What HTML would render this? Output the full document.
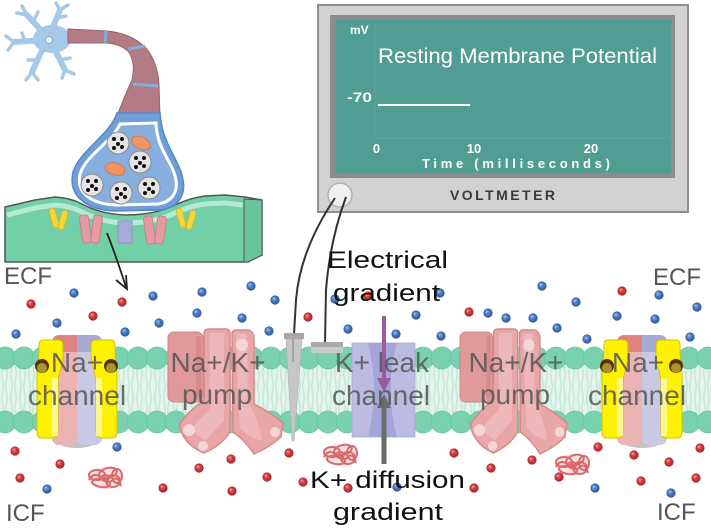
<!DOCTYPE html>
<html><head><meta charset="utf-8">
<style>html,body{margin:0;padding:0;background:#fff;}svg{display:block;}</style></head>
<body>
<svg width="711" height="530" viewBox="0 0 711 530" xmlns="http://www.w3.org/2000/svg" font-family="'Liberation Sans', sans-serif">
<defs>
 <radialGradient id="gb" cx="50%" cy="50%" r="55%" fx="35%" fy="32%">
  <stop offset="0" stop-color="#a4c4ee"/><stop offset="0.45" stop-color="#4b7cc6"/><stop offset="1" stop-color="#2a4f8e"/>
 </radialGradient>
 <radialGradient id="gr" cx="50%" cy="50%" r="55%" fx="35%" fy="32%">
  <stop offset="0" stop-color="#f6a0a0"/><stop offset="0.45" stop-color="#d43a3e"/><stop offset="1" stop-color="#a02226"/>
 </radialGradient>
 <pattern id="tails" x="0" y="368" width="9" height="24" patternUnits="userSpaceOnUse">
  <rect width="9" height="24" fill="#e2f4ec"/>
  <path d="M2.5,0 Q1,6 2.5,12 Q4,18 2.5,24 M6.5,0 Q8,6 6.5,12 Q5,18 6.5,24" stroke="#bfe5d4" stroke-width="1.2" fill="none"/>
 </pattern>
 <g id="tg">
  <ellipse cx="0" cy="0" rx="17" ry="11" fill="#f6cfcf" opacity="0.6"/>
  <g fill="none" stroke="#d9696b" stroke-width="2">
   <ellipse cx="-8" cy="-3" rx="8" ry="5"/>
   <ellipse cx="3" cy="-5" rx="9" ry="5" transform="rotate(-15 3 -5)"/>
   <ellipse cx="8" cy="3" rx="7" ry="6"/>
   <ellipse cx="-4" cy="5" rx="9" ry="4" transform="rotate(10 -4 5)"/>
   <ellipse cx="12" cy="-2" rx="5" ry="7"/>
   <path d="M-16,2 q5,-9 12,-2 t12,2 t8,6"/>
   <ellipse cx="0" cy="0" rx="4" ry="3"/>
  </g>
 </g>
 <g id="nach">
  <ellipse cx="0" cy="440" rx="21" ry="8" fill="#c2c2c2"/>
  <rect x="-25" y="335" width="25" height="110" rx="7" fill="#ebb3b3"/>
  <path d="M-25,352 L-25,343 Q-25,335 -17,335 L0,335 L0,352 Z" fill="#de8181"/>
  <rect x="0" y="335" width="25" height="110" rx="7" fill="#c9c9e6"/>
  <path d="M25,352 L25,343 Q25,335 17,335 L0,335 L0,352 Z" fill="#a9a9d4"/>
  <path d="M-34,340 L-18,340 Q-14,340 -14,346 L-14,362 Q-18,372 -19,382 L-19,430 Q-19,438 -24,438 L-35,438 Q-40,438 -40,432 L-40,372 Q-38,360 -38,346 Q-38,340 -34,340 Z" fill="#fff200" stroke="#d2c300" stroke-width="1"/>
  <path d="M34,340 L18,340 Q14,340 14,346 L14,362 Q18,372 19,382 L19,430 Q19,438 24,438 L35,438 Q40,438 40,432 L40,372 Q38,360 38,346 Q38,340 34,340 Z" fill="#fff200" stroke="#d2c300" stroke-width="1"/>
  <rect x="-25" y="378" width="6" height="58" fill="#fcf8a8" opacity="0.85"/>
  <rect x="19" y="378" width="6" height="58" fill="#fcf8a8" opacity="0.85"/>
  <circle cx="-35" cy="366" r="7" fill="#5a3208"/>
  <circle cx="-35" cy="368" r="5" fill="#a8962a"/>
  <circle cx="34" cy="366" r="7" fill="#5a3208"/>
  <circle cx="34" cy="368" r="5" fill="#a8962a"/>
 </g>
 <g id="pump">
  <rect x="168" y="332" width="35" height="70" rx="6" fill="#e19a9a" stroke="#d38585" stroke-width="1"/>
  <rect x="196" y="336" width="5" height="62" rx="2" fill="#d68a8a"/>
  <path d="M204,334 Q204,329 209,329 L226,329 Q230,329 230,334 L230,432 Q222,445 204,453 Q192,448 186,440 Q178,430 180,423 Q188,412 204,400 Z" fill="#e8a6a6" stroke="#d68a8a" stroke-width="1.5"/>
  <path d="M210,333 L224,333 L224,420 Q215,430 206,440 Q196,436 192,428 Q200,418 210,410 Z" fill="#eeb8b8"/>
  <circle cx="189" cy="430" r="6" fill="#f5d6d6"/>
  <circle cx="203" cy="446" r="5" fill="#f5d6d6"/>
  <path d="M232,334 Q232,330 236,330 L248,330 Q254,331 254,340 L254,404 Q270,412 283,423 L281,437 Q270,447 254,454 Q245,440 233,432 Z" fill="#e8a6a6" stroke="#d68a8a" stroke-width="1.5"/>
  <path d="M236,334 L246,334 Q249,360 247,400 Q258,418 262,440 Q252,440 240,428 L238,400 Z" fill="#eeb8b8"/>
  <circle cx="242" cy="345" r="6" fill="#f5d6d6"/>
  <circle cx="275" cy="432" r="5" fill="#f5d6d6"/>
 </g>
</defs>

<!-- Neuron soma -->
<g stroke="#a6c9ea" stroke-linecap="round" fill="none">
 <g stroke-width="6">
  <path d="M48,38 L27,15"/><path d="M50,34 L60,10"/><path d="M44,40 L14,42"/><path d="M44,46 L32,72"/><path d="M54,48 L65,70"/>
 </g>
 <g stroke-width="3.5">
  <path d="M27,15 L22,6"/><path d="M27,15 L17,13"/><path d="M33,22 L38,12"/>
  <path d="M60,10 L56,3"/><path d="M60,10 L68,5"/><path d="M57,18 L66,16"/>
  <path d="M14,42 L6,36"/><path d="M14,42 L8,50"/><path d="M25,41 L22,33"/>
  <path d="M32,72 L26,80"/><path d="M32,72 L38,80"/><path d="M37,60 L28,60"/>
  <path d="M65,70 L62,78"/><path d="M65,70 L74,74"/><path d="M60,60 L70,58"/>
 </g>
</g>
<ellipse cx="52" cy="39" rx="19" ry="14" fill="#a6c9ea"/>
<circle cx="49" cy="40" r="3.5" fill="#eef5fc" stroke="#7fb0dc" stroke-width="1"/>

<!-- Axon -->
<path d="M68,29 L107,31 Q130,33 145,47 Q158,62 159,85 L160,116 L117,116 Q125,95 132,80 Q136,62 128,51 Q118,43 105,43 L68,43 Z" fill="#b27b86" stroke="#98626e" stroke-width="1"/>
<path d="M106,31 L105,43" stroke="#7fb0dc" stroke-width="3"/>
<path d="M128,49 L145,46" stroke="#7fb0dc" stroke-width="3"/>
<path d="M133,84 L158,86" stroke="#7fb0dc" stroke-width="3"/>

<!-- Postsynaptic block -->
<path d="M5,207 L35,200 L55,197 Q70,198 80,203 Q100,214 125,215 Q155,215 175,205 Q190,198 205,196 L225,195 L245,197 L262,200 L262,255 L248,262 L5,262 Z" fill="#72cfa8" stroke="#555" stroke-width="1.5"/>
<path d="M244,199 L244,262 L248,262 L262,255 L262,200 Z" fill="#68c49d" stroke="#555" stroke-width="1"/>
<path d="M7,215 L35,208 L55,205 Q70,206 80,211 Q100,222 125,223 Q155,223 175,213 Q190,206 205,204 L225,203 L243,205" stroke="#b5ead5" stroke-width="5" fill="none"/>
<!-- receptors -->
<g fill="#f5d63a" stroke="#d9b820" stroke-width="0.8">
 <rect x="51" y="208" width="6" height="20" rx="3" transform="rotate(-15 54 218)"/>
 <rect x="60" y="210" width="6" height="20" rx="3" transform="rotate(15 63 220)"/>
 <rect x="178" y="208" width="6" height="20" rx="3" transform="rotate(-15 181 218)"/>
 <rect x="188" y="210" width="6" height="20" rx="3" transform="rotate(15 191 220)"/>
</g>
<g fill="#e49ba1" stroke="#c97a80" stroke-width="0.8">
 <rect x="81" y="215" width="9" height="28" rx="3" transform="rotate(-8 85 229)"/>
 <rect x="92" y="215" width="9" height="28" rx="3" transform="rotate(8 96 229)"/>
 <rect x="145" y="216" width="9" height="28" rx="3" transform="rotate(-8 149 230)"/>
 <rect x="156" y="216" width="9" height="28" rx="3" transform="rotate(8 160 230)"/>
</g>
<rect x="118" y="221" width="14" height="22" fill="#aaaada" stroke="#8c8cc4" stroke-width="0.8"/>

<!-- Bouton -->
<path d="M117,113 C110,135 80,150 73,172 C68,195 85,210 115,211 L160,210 C178,208 186,195 183,180 C180,160 162,145 160,113 Z" fill="#6f9fd8" stroke="#5787c6" stroke-width="1.5"/>
<path d="M120,124 C112,142 86,155 80,174 C76,192 90,204 116,205 L158,204 C172,202 178,192 176,180 C173,162 157,150 156,123 Z" fill="#86afe0" stroke="#fff" stroke-width="3"/>
<g fill="#e4e4e4" stroke="#8a8a8a" stroke-width="1">
 <circle cx="118" cy="143" r="11"/><circle cx="140" cy="162" r="11"/><circle cx="92" cy="185" r="11"/><circle cx="121" cy="193" r="11"/><circle cx="149" cy="188" r="11"/>
</g>
<g fill="#111">
 <circle cx="114" cy="139" r="2"/><circle cx="122" cy="139" r="2"/><circle cx="118" cy="144" r="2"/><circle cx="114" cy="148" r="2"/><circle cx="122" cy="147" r="2"/>
 <circle cx="136" cy="158" r="2"/><circle cx="144" cy="158" r="2"/><circle cx="140" cy="163" r="2"/><circle cx="136" cy="167" r="2"/><circle cx="144" cy="166" r="2"/>
 <circle cx="88" cy="181" r="2"/><circle cx="96" cy="181" r="2"/><circle cx="92" cy="186" r="2"/><circle cx="88" cy="190" r="2"/><circle cx="96" cy="189" r="2"/>
 <circle cx="117" cy="189" r="2"/><circle cx="125" cy="189" r="2"/><circle cx="121" cy="194" r="2"/><circle cx="117" cy="198" r="2"/><circle cx="125" cy="197" r="2"/>
 <circle cx="145" cy="184" r="2"/><circle cx="153" cy="184" r="2"/><circle cx="149" cy="189" r="2"/><circle cx="145" cy="193" r="2"/><circle cx="153" cy="192" r="2"/>
</g>
<ellipse cx="141" cy="143" rx="10" ry="6" transform="rotate(25 141 143)" fill="#ef9462" stroke="#d9784a" stroke-width="1"/>
<ellipse cx="115" cy="169" rx="10" ry="6" transform="rotate(15 115 169)" fill="#ef9462" stroke="#d9784a" stroke-width="1"/>
<!-- curved arrow -->
<path d="M107,233 Q116,256 126,287" stroke="#222" stroke-width="1.8" fill="none"/>
<polyline points="116,280 127,289 126,275" stroke="#222" stroke-width="1.8" fill="none"/>

<!-- Voltmeter -->
<rect x="318" y="5" width="370" height="207" fill="#d2d2d2" stroke="#8f8f8f" stroke-width="2"/>
<rect x="330" y="15" width="345" height="163" fill="#8c8c8c"/>
<rect x="335" y="20" width="336" height="153" fill="#509d93"/>
<path d="M375,22 L375,138 L670,138" stroke="#5aa79d" stroke-width="1" fill="none"/>
<text x="350" y="34" font-size="12" font-weight="bold" fill="#fff">mV</text>
<text x="378" y="63" font-size="21" fill="#fff" textLength="279" lengthAdjust="spacingAndGlyphs">Resting Membrane Potential</text>
<text x="347" y="102" font-size="14" font-weight="bold" fill="#fff" textLength="25" lengthAdjust="spacingAndGlyphs">-70</text>
<line x1="378" y1="105" x2="470" y2="105" stroke="#fff" stroke-width="2"/>
<text x="376.5" y="153" font-size="13" font-weight="bold" fill="#fff" text-anchor="middle">0</text>
<text x="474" y="153" font-size="13" font-weight="bold" fill="#fff" text-anchor="middle">10</text>
<text x="591" y="153" font-size="13" font-weight="bold" fill="#fff" text-anchor="middle">20</text>
<text x="422" y="168" font-size="13" font-weight="bold" fill="#fff" textLength="188">Time (milliseconds)</text>
<text x="450" y="200" font-size="14" font-weight="bold" fill="#3a3a3a" textLength="105">VOLTMETER</text>
<circle cx="340" cy="195" r="12" fill="#f0f0f0" stroke="#b0b0b0" stroke-width="1.5"/>

<!-- Membrane -->
<rect x="0" y="366" width="711" height="50" fill="url(#tails)"/>
<g fill="#79d1ad" stroke="#69c39f" stroke-width="0.8" id="heads">
 <circle cx="5" cy="358" r="11"/><circle cx="24" cy="358" r="11"/><circle cx="43" cy="358" r="11"/><circle cx="62" cy="358" r="11"/><circle cx="81" cy="358" r="11"/><circle cx="100" cy="358" r="11"/><circle cx="119" cy="358" r="11"/><circle cx="138" cy="358" r="11"/><circle cx="157" cy="358" r="11"/><circle cx="176" cy="358" r="11"/><circle cx="195" cy="358" r="11"/><circle cx="214" cy="358" r="11"/><circle cx="233" cy="358" r="11"/><circle cx="252" cy="358" r="11"/><circle cx="271" cy="358" r="11"/><circle cx="290" cy="358" r="11"/><circle cx="309" cy="358" r="11"/><circle cx="328" cy="358" r="11"/><circle cx="347" cy="358" r="11"/><circle cx="366" cy="358" r="11"/><circle cx="385" cy="358" r="11"/><circle cx="404" cy="358" r="11"/><circle cx="423" cy="358" r="11"/><circle cx="442" cy="358" r="11"/><circle cx="461" cy="358" r="11"/><circle cx="480" cy="358" r="11"/><circle cx="499" cy="358" r="11"/><circle cx="518" cy="358" r="11"/><circle cx="537" cy="358" r="11"/><circle cx="556" cy="358" r="11"/><circle cx="575" cy="358" r="11"/><circle cx="594" cy="358" r="11"/><circle cx="613" cy="358" r="11"/><circle cx="632" cy="358" r="11"/><circle cx="651" cy="358" r="11"/><circle cx="670" cy="358" r="11"/><circle cx="689" cy="358" r="11"/><circle cx="708" cy="358" r="11"/>
</g>
<use href="#heads" transform="translate(0,64)"/>

<!-- Proteins -->
<use href="#nach" transform="translate(77,0)"/>
<use href="#nach" transform="translate(642,0)"/>
<use href="#pump"/>
<use href="#pump" transform="translate(460,0) scale(0.93,1) translate(-168,0)"/>
<!-- K+ leak channel -->
<rect x="352" y="343" width="63" height="94" fill="#bcbce3" stroke="#a9a9d6" stroke-width="0.8"/>
<path d="M368,343 L397,343 Q390,368 391,390 Q390,412 397,437 L368,437 Q374,412 374,390 Q374,368 368,343 Z" fill="#a5a5d8"/>

<!-- Electrodes & wires -->
<path d="M335,198 Q300,250 296,300 L294,334" stroke="#333" stroke-width="2" fill="none"/>
<path d="M346,197 Q330,240 326,290 L325,343" stroke="#333" stroke-width="2" fill="none"/>
<polygon points="286,339 302,339 294,441 292,441" fill="#c6c6c6" stroke="#b0b0b0" stroke-width="0.6"/>
<rect x="284" y="333" width="20" height="6" fill="#a9a9a9"/>
<line x1="293" y1="339" x2="293" y2="362" stroke="#999" stroke-width="1.5"/>
<rect x="311" y="342" width="32" height="11" fill="#cacaca"/>
<rect x="311" y="342" width="32" height="5" fill="#a9a9a9"/>

<!-- Tangles -->
<use href="#tg" transform="translate(105,478)"/>
<use href="#tg" transform="translate(340,455)"/>
<use href="#tg" transform="translate(572,465)"/>

<!-- Dots blue -->
<g fill="url(#gb)">
 <circle cx="74" cy="293" r="4.6"/><circle cx="153" cy="296" r="4.6"/><circle cx="202" cy="292" r="4.6"/><circle cx="251" cy="286" r="4.6"/><circle cx="275" cy="300" r="4.6"/><circle cx="57" cy="323" r="4.6"/><circle cx="159" cy="323" r="4.6"/><circle cx="197" cy="313" r="4.6"/><circle cx="242" cy="318" r="4.6"/><circle cx="16" cy="334" r="4.6"/><circle cx="125" cy="332" r="4.6"/><circle cx="269" cy="331" r="4.6"/><circle cx="348" cy="329" r="4.6"/><circle cx="335" cy="299" r="4.6"/>
 <circle cx="117" cy="447" r="4.6"/><circle cx="47" cy="489" r="4.6"/>
 <circle cx="440" cy="293" r="4.6"/><circle cx="416" cy="315" r="4.6"/><circle cx="396" cy="334" r="4.6"/><circle cx="441" cy="336" r="4.6"/><circle cx="488" cy="313" r="4.6"/><circle cx="506" cy="318" r="4.6"/><circle cx="533" cy="318" r="4.6"/><circle cx="542" cy="286" r="4.6"/><circle cx="576" cy="302" r="4.6"/><circle cx="557" cy="328" r="4.6"/><circle cx="587" cy="339" r="4.6"/><circle cx="659" cy="295" r="4.6"/><circle cx="697" cy="307" r="4.6"/><circle cx="617" cy="316" r="4.6"/><circle cx="655" cy="319" r="4.6"/><circle cx="690" cy="337" r="4.6"/>
 <circle cx="397" cy="487" r="4.6"/><circle cx="595" cy="488" r="4.6"/><circle cx="671" cy="493" r="4.6"/>
</g>
<!-- Dots red -->
<g fill="url(#gr)">
 <circle cx="31" cy="304" r="4.6"/><circle cx="122" cy="302" r="4.6"/><circle cx="93" cy="316" r="4.6"/><circle cx="308" cy="317" r="4.6"/><circle cx="368" cy="296" r="4.6"/><circle cx="469" cy="312" r="4.6"/><circle cx="622" cy="291" r="4.6"/>
 <circle cx="15" cy="451" r="4.6"/><circle cx="60" cy="464" r="4.6"/><circle cx="20" cy="478" r="4.6"/><circle cx="163" cy="488" r="4.6"/><circle cx="199" cy="468" r="4.6"/><circle cx="231" cy="459" r="4.6"/><circle cx="267" cy="477" r="4.6"/><circle cx="232" cy="491" r="4.6"/><circle cx="289" cy="453" r="4.6"/><circle cx="303" cy="482" r="4.6"/><circle cx="348" cy="488" r="4.6"/>
 <circle cx="454" cy="453" r="4.6"/><circle cx="491" cy="468" r="4.6"/><circle cx="532" cy="460" r="4.6"/><circle cx="474" cy="488" r="4.6"/><circle cx="598" cy="447" r="4.6"/><circle cx="634" cy="455" r="4.6"/><circle cx="669" cy="462" r="4.6"/><circle cx="700" cy="448" r="4.6"/><circle cx="641" cy="481" r="4.6"/><circle cx="696" cy="478" r="4.6"/><circle cx="559" cy="477" r="4.6"/>
</g>

<!-- Arrows -->
<line x1="384" y1="316" x2="384" y2="380" stroke="#9a5c9c" stroke-width="4"/>
<polygon points="377,378 391,378 384,392" fill="#9a5c9c"/>
<line x1="384" y1="405" x2="384" y2="464" stroke="#6b6b6b" stroke-width="5"/>
<polygon points="377,408 391,408 384,394" fill="#6b6b6b"/>

<!-- Protein labels -->
<g font-size="28" fill="#555" opacity="0.85" text-anchor="middle">
 <text x="77" y="372">Na+</text><text x="77" y="405">channel</text>
 <text x="218" y="372">Na+/K+</text><text x="217" y="404">pump</text>
 <text x="382" y="372">K+ leak</text><text x="381" y="405">channel</text>
 <text x="516" y="372">Na+/K+</text><text x="515" y="404">pump</text>
 <text x="638" y="372">Na+</text><text x="637" y="405">channel</text>
</g>

<!-- Region labels -->
<g font-size="24" fill="#555">
 <text x="4" y="284">ECF</text>
 <text x="653" y="285">ECF</text>
 <text x="6" y="521">ICF</text>
 <text x="657" y="520">ICF</text>
</g>
<g font-size="24" fill="#111">
 <text x="327" y="268" textLength="121" lengthAdjust="spacingAndGlyphs">Electrical</text>
 <text x="333" y="301" textLength="107" lengthAdjust="spacingAndGlyphs">gradient</text>
 <text x="310" y="488" textLength="155" lengthAdjust="spacingAndGlyphs">K+ diffusion</text>
 <text x="333" y="520" textLength="110" lengthAdjust="spacingAndGlyphs">gradient</text>
</g>
</svg>
</body></html>
